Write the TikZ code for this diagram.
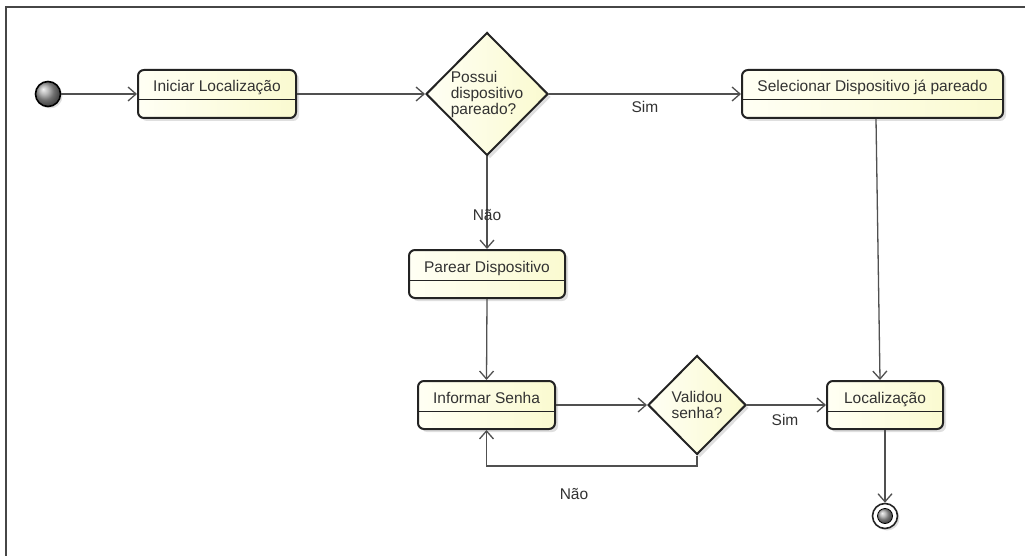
\documentclass[tikz,border=0pt]{standalone}
\usepackage{fontspec}
\setmainfont{Liberation Sans}
\usetikzlibrary{arrows.meta,shapes.geometric,shadows,calc}
\definecolor{boxl}{RGB}{255,255,244}
\definecolor{boxr}{RGB}{250,250,208}
\definecolor{edgec}{RGB}{35,35,35}
\definecolor{conn}{RGB}{80,80,80}
\definecolor{txt}{RGB}{50,50,50}
\definecolor{framec}{RGB}{70,70,70}
\begin{document}
\begin{tikzpicture}[x=1pt,y=-1pt,
  font=\fontsize{15.5}{16}\selectfont,
  act/.style={rectangle, draw=edgec, line width=2pt, rounded corners=6pt,
    minimum height=48pt, inner ysep=8pt, text height=14pt, text depth=18pt,
    left color=boxl, right color=boxr, text=txt,
    drop shadow={shadow xshift=3pt,shadow yshift=-3pt,opacity=0.25},
    path picture={\draw[edgec, line width=1pt]
      ($(path picture bounding box.north west)+(0,30)$) --
      ($(path picture bounding box.north east)+(0,30)$);}},
  dec/.style={diamond, draw=edgec, line width=2pt,
    left color=boxl, right color=boxr, inner sep=0pt, text=txt,
    drop shadow={shadow xshift=3pt,shadow yshift=-3pt,opacity=0.25}},
  arr/.style={draw=conn, line width=1.3pt, -{Straight Barb[length=8pt,width=14pt]}},
  lab/.style={text=txt}
]
\useasboundingbox (0,0) rectangle (1025,556);
\draw[line width=2pt, framec] (6,556) -- (6,7) -- (1025,7);

\node[circle, draw=black, line width=1.6pt, ball color=gray!75,
  minimum size=25pt, inner sep=0pt,
  drop shadow={shadow xshift=2pt,shadow yshift=-2pt,opacity=0.25}] (st) at (48,94) {};

\node[act, minimum width=158pt] (ini) at (217,94) {Iniciar Localização};
\node[dec, minimum width=122pt, minimum height=123pt, align=left] (d1) at (487,94)
  {Possui\\dispositivo\\pareado?};
\node[act, minimum width=261pt] (sel) at (872.5,94) {Selecionar Dispositivo já pareado};
\node[act, minimum width=156pt] (par) at (487,274) {Parear Dispositivo};
\node[act, minimum width=137pt] (inf) at (486.5,405) {Informar Senha};
\node[dec, minimum width=98pt, minimum height=99pt, align=center] (d2) at (697,405)
  {Validou\\senha?};
\node[act, minimum width=116pt] (loc) at (885,405) {Localização};

\node[circle, draw=edgec, line width=1.6pt, fill=white, minimum size=25pt, inner sep=0pt,
  drop shadow={shadow xshift=2pt,shadow yshift=-2pt,opacity=0.25}] (fin) at (885,516) {};
\node[circle, draw=black, line width=0.8pt, ball color=gray!70, minimum size=15pt, inner sep=0pt] (fin2) at (fin) {};

\draw[arr] (st) -- (ini.west);
\draw[arr] (ini.east) -- (d1.west);
\draw[arr] (d1.east) -- (sel.west);
\node[lab] (sim1) at (645,107) {Sim};
\draw[arr] (d1.south) -- (par.north);
\node[lab] (nao1) at (487,215) {Não};
\draw[arr] (par.south) -- (inf.north);
\draw[arr] (inf.east) -- (d2.west);
\draw[arr] (d2.east) -- (loc.west);
\node[lab] (sim2) at (785,420) {Sim};
\coordinate (lp) at (697,466);
\draw[arr] (d2.south) -- (lp) -| (inf.south);
\node[lab] (nao2) at (574,494) {Não};
\draw[arr] ($(sel.south)+(3.5,0)$) -- ($(loc.north)+(-5,0)$);
\draw[arr] (loc.south) -- (fin);
\end{tikzpicture}
\end{document}
